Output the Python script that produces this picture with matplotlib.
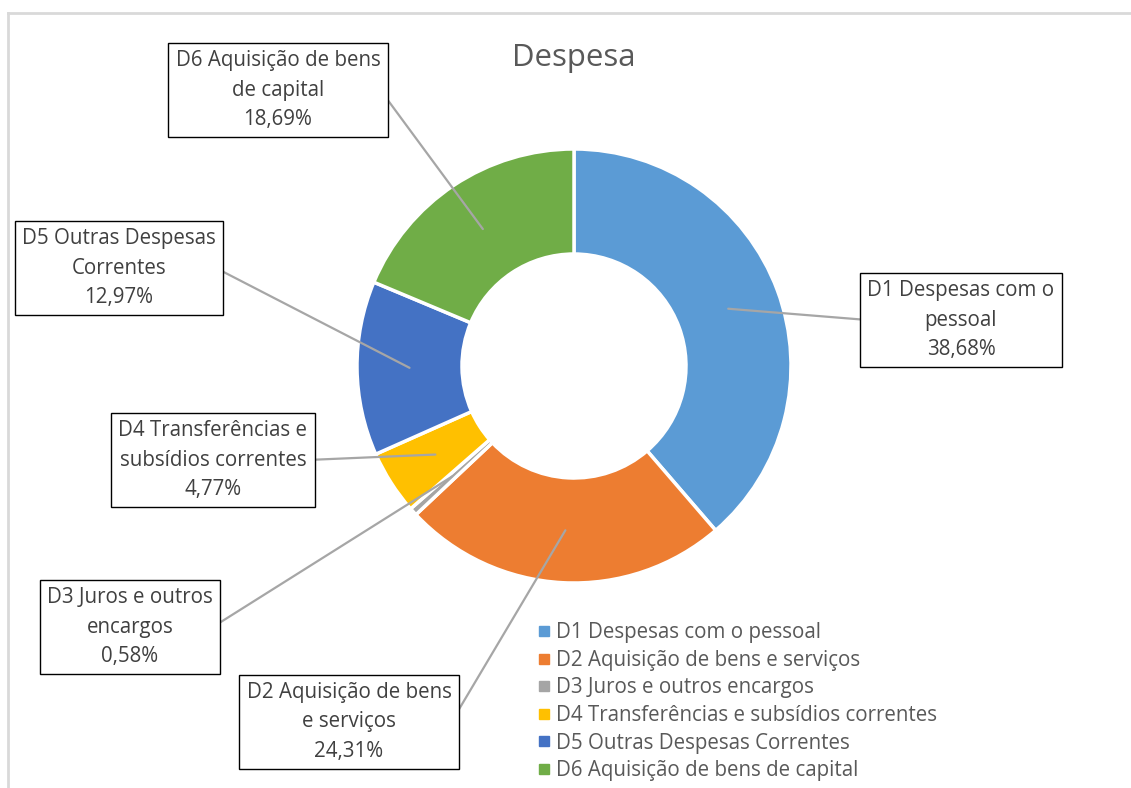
import numpy as np
import matplotlib.pyplot as plt
from matplotlib.lines import Line2D

plt.rcParams['font.family'] = ['Open Sans', 'DejaVu Sans']

# values
categories = ['D1 Despesas com o pessoal',
              'D2 Aquisição de bens e serviços',
              'D3 Juros e outros encargos',
              'D4 Transferências e subsídios correntes',
              'D5 Outras Despesas Correntes',
              'D6 Aquisição de bens de capital']
box_text = ['D1 Despesas com o\npessoal',
            'D2 Aquisição de bens\ne serviços',
            'D3 Juros e outros\nencargos',
            'D4 Transferências e\nsubsídios correntes',
            'D5 Outras Despesas\nCorrentes',
            'D6 Aquisição de bens\nde capital']
values = [38.68, 24.31, 0.58, 4.77, 12.97, 18.69]
colors = ['#5B9BD5', '#ED7D31', '#A5A5A5', '#FFC000', '#4472C4', '#70AD47']

W, H = 1131, 788
fig = plt.figure(figsize=(W / 100, H / 100), dpi=100)
ax = fig.add_axes([0, 0, 1, 1])

cx, cy, R = 574, H - 366, 217
ring = 105
wedges, _ = ax.pie(values, center=(cx, cy), radius=R, startangle=90,
                   counterclock=False, colors=colors, frame=True,
                   wedgeprops=dict(width=ring, edgecolor='white', linewidth=2.5))
ax.set_xlim(0, W)
ax.set_ylim(0, H)
ax.set_aspect('equal')
ax.axis('off')

# label box centres (pixels, y down) and where the leader leaves the box
box_pos = [(961, 320), (349, 722), (130, 627), (213, 460), (119, 268), (278, 90)]
rel = [(0, 0.5), (1, 0.5), (1, 0.5), (1, 0.5), (1, 0.5), (1, 0.5)]

rmid = R - ring / 2
for w, txt, v, (bx, by), rp in zip(wedges, box_text, values, box_pos, rel):
    ang = np.deg2rad((w.theta1 + w.theta2) / 2)
    px = cx + rmid * np.cos(ang)
    py = cy + rmid * np.sin(ang)
    label = txt + '\n' + f'{v:.2f}'.replace('.', ',') + '%'
    ax.annotate(label, xy=(px, py), xytext=(bx, H - by), ha='center', va='center',
                fontsize=14.8, color='#404040', linespacing=1.55,
                bbox=dict(boxstyle='square,pad=0.35', fc='white', ec='black', lw=1),
                arrowprops=dict(arrowstyle='-', color='#A6A6A6', lw=1.6,
                                relpos=rp, shrinkA=0, shrinkB=0))

ax.text(574, H - 58, 'Despesa', ha='center', va='center', fontsize=22.4, color='#595959')

handles = [Line2D([], [], marker='s', ls='', markersize=7, color=c) for c in colors]
fig.legend(handles, categories, loc='upper left', bbox_to_anchor=(523 / W, 1 - 614 / H),
           frameon=False, fontsize=14.8, labelcolor='#595959', handletextpad=0.0,
           handlelength=1.2, labelspacing=0.32, borderaxespad=0)

# chart area border (only left and top visible)
fig.add_artist(Line2D([8 / W, 8 / W], [0, 1 - 13 / H], color='#D9D9D9', lw=2))
fig.add_artist(Line2D([8 / W, 1], [1 - 13 / H, 1 - 13 / H], color='#D9D9D9', lw=2))

fig.savefig('out.png', dpi=100, facecolor='white')
